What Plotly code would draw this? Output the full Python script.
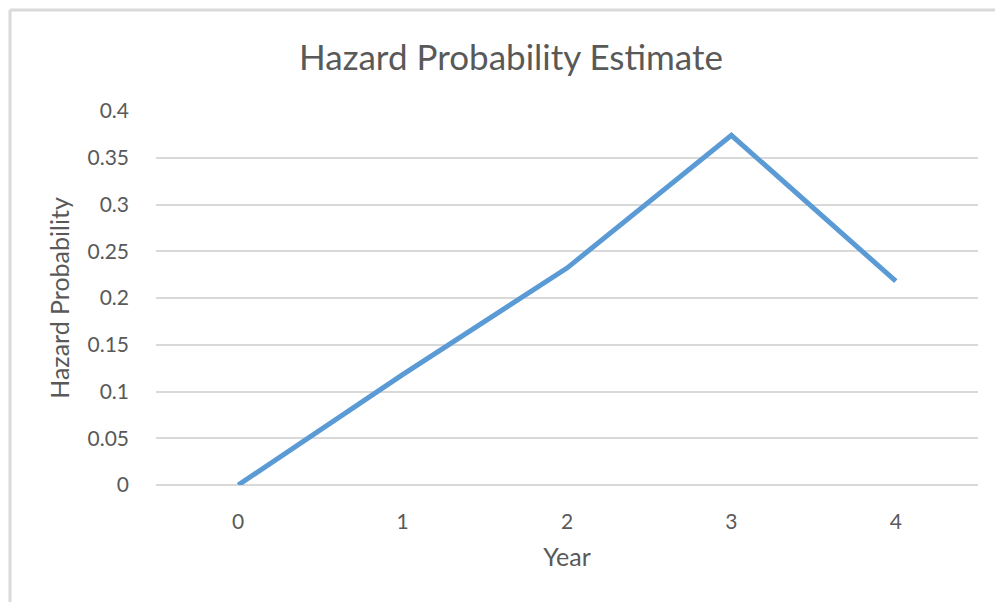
import plotly.graph_objects as go

# Hazard probability by year
years = ["0", "1", "2", "3", "4"]
hazard = [0.0, 0.118, 0.232, 0.374, 0.218]
y_ticks = [0, 0.05, 0.1, 0.15, 0.2, 0.25, 0.3, 0.35, 0.4]
y_tick_text = ["0", "0.05", "0.1", "0.15", "0.2", "0.25", "0.3", "0.35", "0.4"]

W, H = 995, 602
L, R, T, B = 156, 17, 111, 117
pw, ph = W - L - R, H - T - B

FONT = "Lato"
TEXT = "#595959"
GRID = "#d9d9d9"


def px_x(px):
    return (px - L) / pw


def px_y(py):
    return (H - B - py) / ph


fig = go.Figure()
fig.add_trace(go.Scatter(
    x=years, y=hazard, mode="lines",
    line=dict(color="#5B9BD5", width=5),
    hoverinfo="x+y",
))

fig.update_layout(
    width=W, height=H,
    margin=dict(l=L, r=R, t=T, b=B),
    paper_bgcolor="white", plot_bgcolor="white",
    showlegend=False,
    font=dict(family=FONT, color=TEXT),
    title=dict(
        text="Hazard Probability Estimate",
        font=dict(family=FONT, size=35, color=TEXT),
        x=511 / W, xref="container", xanchor="center",
        y=1 - 58 / H, yref="container", yanchor="middle",
    ),
    xaxis=dict(
        type="category", range=[-0.5, 4.5],
        showgrid=False, showline=False, zeroline=False,
        ticks="", ticklabelstandoff=22,
        tickfont=dict(family=FONT, size=21, color=TEXT),
        title=dict(text="Year", font=dict(family=FONT, size=25, color=TEXT), standoff=16),
    ),
    yaxis=dict(
        range=[0, 0.4], tickvals=y_ticks, ticktext=y_tick_text,
        showgrid=True, gridcolor=GRID, gridwidth=1.5,
        zeroline=True, zerolinecolor=GRID, zerolinewidth=1.5,
        showline=False, ticks="", ticklabelstandoff=26,
        tickfont=dict(family=FONT, size=21, color=TEXT),
        title=dict(text="Hazard Probability", font=dict(family=FONT, size=25, color=TEXT), standoff=10),
    ),
    shapes=[
        # chart area frame (top and left edges)
        dict(type="line", xref="paper", yref="paper",
             x0=px_x(10), x1=px_x(W + 5), y0=px_y(10), y1=px_y(10),
             line=dict(color=GRID, width=3)),
        dict(type="line", xref="paper", yref="paper",
             x0=px_x(10), x1=px_x(10), y0=px_y(10), y1=px_y(H + 5),
             line=dict(color=GRID, width=3)),
    ],
)

fig.write_html("out.html")
